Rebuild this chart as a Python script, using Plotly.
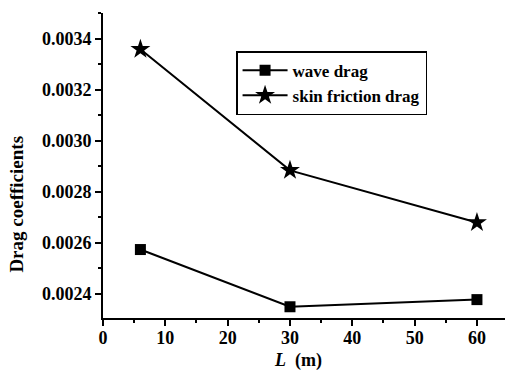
import plotly.graph_objects as go

L_values = [6, 30, 60]
wave_drag = [0.002574, 0.002350, 0.002378]
skin_friction_drag = [0.003358, 0.002884, 0.002680]
x_ticks = [0, 10, 20, 30, 40, 50, 60]
y_ticks = [0.0024, 0.0026, 0.0028, 0.0030, 0.0032, 0.0034]

font_family = "Liberation Serif, Times New Roman, serif"

fig = go.Figure()
fig.add_trace(go.Scatter(
    x=L_values, y=wave_drag, name="wave drag", mode="lines+markers",
    line=dict(color="black", width=2),
    marker=dict(symbol="square", size=11, color="black"),
))
fig.add_trace(go.Scatter(
    x=L_values, y=skin_friction_drag, name="skin friction drag", mode="lines+markers",
    line=dict(color="black", width=2),
    marker=dict(symbol="star", size=15, color="black"),
))

fig.update_layout(
    width=507, height=370,
    margin=dict(l=103, r=2, t=13, b=52),
    plot_bgcolor="white", paper_bgcolor="white",
    font=dict(family=font_family, color="black", size=16),
    showlegend=True,
    legend=dict(
        x=0.331, y=0.875, xanchor="left", yanchor="top",
        bordercolor="black", borderwidth=1.5, bgcolor="white",
        font=dict(size=17, family=font_family, weight="bold"),
        tracegroupgap=0, itemwidth=45,
    ),
    xaxis=dict(
        range=[0, 64.5], tickvals=x_ticks, ticks="outside", ticklen=6,
        tickwidth=1.5, tickcolor="black",
        showline=True, linecolor="black", linewidth=2, showgrid=False,
        zeroline=False, tickfont=dict(size=18, family=font_family, weight="bold"),
        ticklabelstandoff=-4,
        minor=dict(ticks="outside", ticklen=3, dtick=5, tickcolor="black"),
    ),
    yaxis=dict(
        range=[0.002306, 0.0035], tickvals=y_ticks, tickformat=".4f",
        ticks="outside", ticklen=6, tickwidth=1.5, tickcolor="black",
        showline=True, linecolor="black", linewidth=2, showgrid=False,
        zeroline=False, tickfont=dict(size=18, family=font_family, weight="bold"),
        minor=dict(ticks="outside", ticklen=3, dtick=0.0001, tickcolor="black"),
    ),
    annotations=[
        dict(text="Drag coefficients", textangle=-90, xref="paper", yref="paper",
             x=-0.214, y=0.375, xanchor="center", yanchor="middle", showarrow=False,
             font=dict(size=19, family=font_family, weight="bold")),
        dict(text="<i>L</i>  (m)", xref="paper", yref="paper",
             x=0.485, y=-0.138, xanchor="center", yanchor="middle", showarrow=False,
             font=dict(size=18, family=font_family, weight="bold")),
    ],
)

fig.write_html("out.html", config={"displayModeBar": False},
               post_script="document.body.style.margin='0';")
